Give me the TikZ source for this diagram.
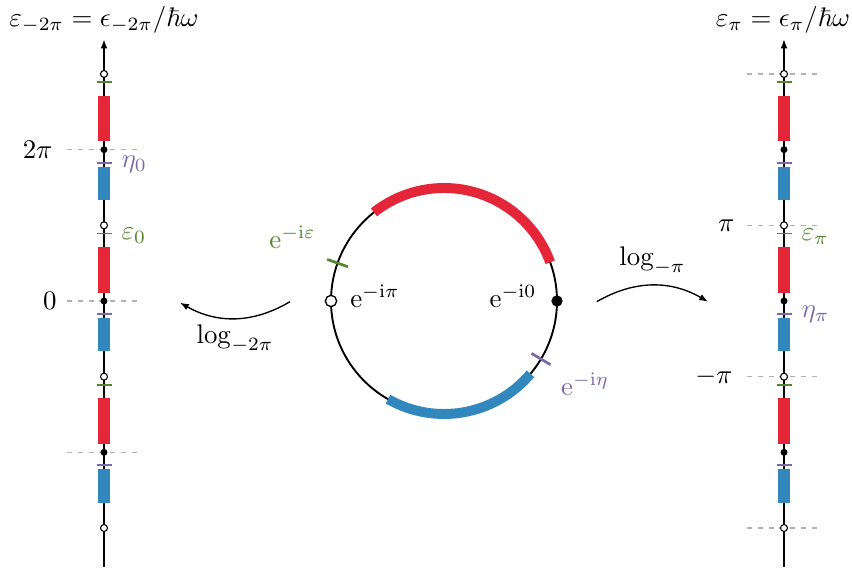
\documentclass[tikz,border=0pt]{standalone}
\usepackage{amsmath,amssymb}
\usepackage{xcolor}
\usepackage{tikz}
\usetikzlibrary{arrows.meta}

\definecolor{bandred}{RGB}{228,38,56}
\definecolor{bandblue}{RGB}{50,136,189}
\definecolor{epsgreen}{RGB}{84,134,46}
\definecolor{etapurple}{RGB}{122,104,168}

\begin{document}
\begin{tikzpicture}[x=0.372pt, y=0.372pt,
  >={Latex[length=3.3pt,width=2.5pt]},
  fulldot/.style={circle, fill=black, inner sep=0pt, minimum size=2.6pt},
  opendot/.style={circle, draw=black, fill=white, line width=0.4pt, inner sep=0pt, minimum size=2.6pt},
  bigfull/.style={fulldot, minimum size=4.2pt},
  bigopen/.style={opendot, line width=0.5pt, minimum size=4.2pt},
  level/.style={gray!60, line width=0.5pt, dash pattern=on 2pt off 2pt},
  epstick/.style={epsgreen, line width=0.65pt},
  etatick/.style={etapurple, line width=0.65pt}]

  \useasboundingbox (0,0) rectangle (852,570);

  % left axis, branch of log_{-2pi}
  \begin{scope}[shift={(104,269)}, y=8.96pt]
    \coordinate (lbot) at (0,-11.03);
    \coordinate (ltop) at (0,10.86);
    \foreach \v in {-6.2832,0,6.2832}
      \draw[level] (-37,\v) -- (37,\v);
    \draw[line width=0.5pt,->] (lbot) -- (ltop);
    \foreach \c/\n in {-6.2832/1,0/2,6.2832/3} {
      \fill[bandred] (-6,{\c+0.35}) rectangle (6,{\c+2.24});
      \fill[bandblue] (-6,{\c-0.70}) rectangle (6,{\c-2.09});
      \draw[epstick] (-7.5,{\c+2.80}) -- (7.5,{\c+2.80});
      \draw[etatick] (-7.5,{\c-0.54}) -- (7.5,{\c-0.54});
      \node[fulldot] (ldot\n) at (0,\c) {};
    }
    \foreach \c/\n in {-9.4248/1,-3.1416/2,3.1416/3,9.4248/4}
      \node[opendot] (lhole\n) at (0,\c) {};
    \node[anchor=east] (l2pi) at (-42,6.2832) {$2\pi$};
    \node[anchor=east] (lzero) at (-38,0) {$0$};
    \node[anchor=west, text=epsgreen] (leps) at (8,2.70) {$\varepsilon_0$};
    \node[anchor=west, text=etapurple] (leta) at (8,5.66) {$\eta_0$};
  \end{scope}

  % right axis, branch of log_{-pi}
  \begin{scope}[shift={(784,269)}, y=8.96pt]
    \coordinate (rbot) at (0,-11.03);
    \coordinate (rtop) at (0,10.86);
    \foreach \v in {-9.4248,-3.1416,3.1416,9.4248}
      \draw[level] (-37,\v) -- (37,\v);
    \draw[line width=0.4pt,->] (rbot) -- (rtop);
    \foreach \c/\n in {-6.2832/1,0/2,6.2832/3} {
      \fill[bandred] (-6,{\c+0.35}) rectangle (6,{\c+2.24});
      \fill[bandblue] (-6,{\c-0.70}) rectangle (6,{\c-2.09});
      \draw[epstick] (-7.5,{\c+2.80}) -- (7.5,{\c+2.80});
      \draw[etatick] (-7.5,{\c-0.54}) -- (7.5,{\c-0.54});
      \node[fulldot] (rdot\n) at (0,\c) {};
    }
    \foreach \c/\n in {-9.4248/1,-3.1416/2,3.1416/3,9.4248/4}
      \node[opendot] (rhole\n) at (0,\c) {};
    \node[anchor=east] (rpi) at (-40,3.1416) {$\pi$};
    \node[anchor=east] (rmpi) at (-42,-3.1416) {$-\pi$};
    \node[anchor=west, text=epsgreen] (reps) at (8,2.68) {$\varepsilon_\pi$};
    \node[anchor=west, text=etapurple] (reta) at (8,-0.56) {$\eta_\pi$};
  \end{scope}

  \node (ltitle) at (104,550) {$\varepsilon_{-2\pi} = \epsilon_{-2\pi}/\hbar\omega$};
  \node (rtitle) at (783,550) {$\varepsilon_{\pi} = \epsilon_{\pi}/\hbar\omega$};

  % unit circle
  \begin{scope}[shift={(444,269)}]
    \draw[line width=0.7pt] (0,0) circle[radius=113];
    \draw[bandred, line width=3.7pt] (20.05:113) arc[start angle=20.05, end angle=128.3, radius=113];
    \draw[bandblue, line width=3.7pt] (-40.1:113) arc[start angle=-40.1, end angle=-119.7, radius=113];
    \draw[epsgreen, line width=1pt] (160.4:102) -- (160.4:124);
    \draw[etapurple, line width=1pt] (-30.9:102) -- (-30.9:124);
    \node[bigfull] (czero) at (0:113) {};
    \node[bigopen] (cpi) at (180:113) {};
    \node (lzerolab) at (69,5) {$\mathrm{e}^{-\mathrm{i}0}$};
    \node (lpilab) at (-69,5) {$\mathrm{e}^{-\mathrm{i}\pi}$};
    \node[text=epsgreen] (epslab) at (-151.5,63.5) {$\mathrm{e}^{-\mathrm{i}\varepsilon}$};
    \node[text=etapurple] (etalab) at (141,-83) {$\mathrm{e}^{-\mathrm{i}\eta}$};
  \end{scope}

  % the two branches of the logarithm
  \coordinate (la) at (290,268.3);
  \coordinate (lb) at (180,267.3);
  \coordinate (ra) at (596.7,268.3);
  \coordinate (rb) at (708,268.3);
  \draw[line width=0.5pt,->] (la) to[bend left=30] (lb);
  \draw[line width=0.5pt,->] (ra) to[bend left=30] (rb);
  \node (llog) at (235,231) {$\log_{-2\pi}$};
  \node (rlog) at (652.5,309) {$\log_{-\pi}$};
\end{tikzpicture}
\end{document}
